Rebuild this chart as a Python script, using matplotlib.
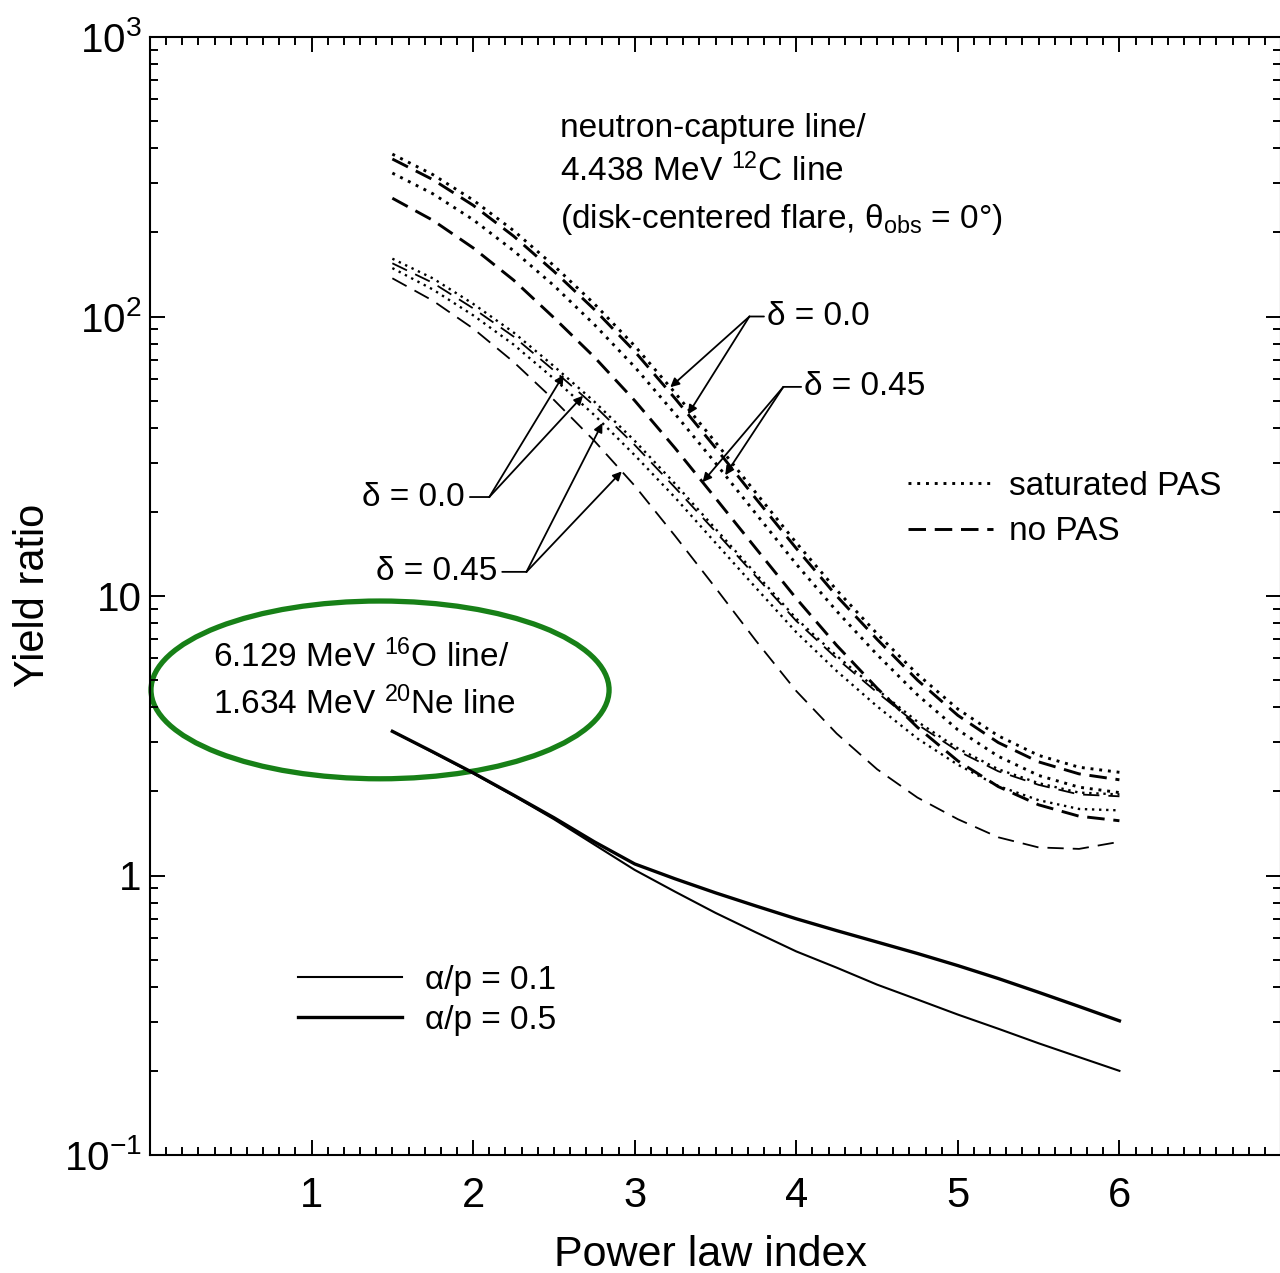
import numpy as np
import matplotlib
matplotlib.use('Agg')
import matplotlib.pyplot as plt
from matplotlib.patches import Ellipse
from matplotlib.lines import Line2D
from matplotlib.ticker import FixedLocator, FixedFormatter, MultipleLocator, LogLocator, NullFormatter

plt.rcParams['font.family'] = 'Liberation Sans'
plt.rcParams['mathtext.fontset'] = 'custom'
plt.rcParams['mathtext.rm'] = 'Liberation Sans'
plt.rcParams['mathtext.it'] = 'Liberation Sans:italic'
plt.rcParams['axes.linewidth'] = 1.5

# power law index grid
index = [1.5, 1.75, 2.0, 2.25, 2.5, 2.75, 3.0, 3.25, 3.5, 3.75,
         4.0, 4.25, 4.5, 4.75, 5.0, 5.25, 5.5, 5.75, 6.0]

# neutron-capture line / 4.438 MeV 12C line, thick = alpha/p 0.5, thin = alpha/p 0.1
nc_thick_d00_sat = [381, 322, 261, 203, 152, 111, 78.5, 53.3, 35.5, 23.4,
                    15.5, 10.5, 7.33, 5.25, 3.94, 3.16, 2.69, 2.44, 2.34]
nc_thick_d00_nopas = [366, 309, 250, 194, 145, 106, 75.0, 50.9, 33.9, 22.3,
                      14.8, 10.0, 7.00, 5.00, 3.74, 2.99, 2.55, 2.31, 2.20]
nc_thick_d45_sat = [326, 275, 222, 172, 129, 93.6, 66.0, 44.8, 29.9, 19.7,
                    13.0, 8.83, 6.17, 4.43, 3.32, 2.67, 2.28, 2.07, 1.98]
nc_thick_d45_nopas = [265, 221, 176, 135, 99.0, 71.6, 50.0, 33.8, 22.4, 14.8,
                      9.80, 6.66, 4.68, 3.39, 2.57, 2.08, 1.79, 1.63, 1.57]
nc_thin_d00_sat = [161, 137, 111, 87.7, 66.4, 49.6, 35.9, 25.2, 17.4, 12.0,
                   8.30, 6.11, 4.63, 3.55, 2.85, 2.40, 2.14, 1.98, 1.95]
nc_thin_d00_nopas = [155, 132, 107, 84.8, 64.1, 48.0, 34.7, 24.4, 17.0, 11.75,
                     8.14, 5.98, 4.52, 3.47, 2.79, 2.36, 2.11, 1.95, 1.92]
nc_thin_d45_sat = [149, 125, 101, 79.4, 59.9, 44.4, 31.9, 22.5, 15.5, 10.7,
                   7.42, 5.39, 4.03, 3.09, 2.49, 2.09, 1.86, 1.73, 1.71]
nc_thin_d45_nopas = [137, 114, 90.6, 68.8, 50.3, 35.9, 24.8, 16.4, 10.7, 6.92,
                     4.57, 3.22, 2.40, 1.90, 1.59, 1.37, 1.26, 1.245, 1.32]

# 6.129 MeV 16O line / 1.634 MeV 20Ne line
one_ap01 = [3.28, 2.76, 2.32, 1.93, 1.59, 1.29, 1.047, 0.875, 0.735, 0.626,
            0.535, 0.468, 0.407, 0.360, 0.318, 0.283, 0.251, 0.224, 0.200]
one_ap05 = [3.28, 2.77, 2.33, 1.94, 1.61, 1.32, 1.10, 0.973, 0.867, 0.778,
            0.700, 0.635, 0.578, 0.526, 0.476, 0.428, 0.382, 0.340, 0.302]

ytick_vals = [0.1, 1, 10, 100, 1000]
ytick_text = ['$10^{-1}$', '1', '10', '$10^2$', '$10^3$']

DOT = (0, (1, 2.0))
DASH_THICK = (0, (6, 3))
DASH_THIN = (0, (9, 5))
LW_THICK = 2.1
LW_THIN = 1.3

fig = plt.figure(figsize=(12.8, 12.73), dpi=100)
ax = fig.add_axes([150 / 1280, 1 - 1155 / 1273, 1131 / 1280, 1118 / 1273])

ax.plot(index, nc_thick_d00_sat, color='k', lw=LW_THICK, ls=DOT)
ax.plot(index, nc_thick_d00_nopas, color='k', lw=LW_THICK, ls=DASH_THICK)
ax.plot(index, nc_thick_d45_sat, color='k', lw=LW_THICK, ls=DOT)
ax.plot(index, nc_thick_d45_nopas, color='k', lw=LW_THICK, ls=DASH_THICK)
ax.plot(index, nc_thin_d00_sat, color='k', lw=LW_THIN + 0.4, ls=DOT)
ax.plot(index, nc_thin_d00_nopas, color='k', lw=LW_THIN, ls=DASH_THIN)
ax.plot(index, nc_thin_d45_sat, color='k', lw=LW_THIN + 0.4, ls=DOT)
ax.plot(index, nc_thin_d45_nopas, color='k', lw=LW_THIN, ls=DASH_THIN)

ax.plot(index, one_ap01, color='k', lw=1.5)
ax.plot(index, one_ap05, color='k', lw=2.4)

ax.set_yscale('log')
ax.set_xlim(0, 7)
ax.set_ylim(0.1, 1000)

ax.xaxis.set_major_locator(FixedLocator([1, 2, 3, 4, 5, 6]))
ax.xaxis.set_minor_locator(MultipleLocator(0.1))
ax.yaxis.set_major_locator(FixedLocator(ytick_vals))
ax.yaxis.set_major_formatter(FixedFormatter(ytick_text))
ax.yaxis.set_minor_locator(LogLocator(base=10, subs=np.arange(2, 10)))
ax.yaxis.set_minor_formatter(NullFormatter())
ax.tick_params(which='both', direction='in', top=True, right=True, width=1.4)
ax.tick_params(which='major', length=11)
ax.tick_params(which='minor', length=6)
ax.tick_params(axis='x', labelsize=30, pad=15)
ax.tick_params(axis='y', labelsize=29, pad=6)

fig.text(33 / 1280, 1 - 595 / 1273, 'Yield ratio', rotation=90,
         ha='center', va='center', fontsize=30)
fig.text(710 / 1280, 1 - 1266 / 1273, 'Power law index',
         ha='center', va='baseline', fontsize=31)

TXT = 24
ax.text(2.54, 472, 'neutron-capture line/', fontsize=TXT, va='center')
ax.text(2.54, 331, '4.438 MeV $^{12}$C line', fontsize=TXT, va='center')
ax.text(2.54, 223, r'(disk-centered flare, θ$_{\mathrm{obs}}$ = 0°)', fontsize=TXT, va='center')

ax.text(0.39, 6.04, '6.129 MeV $^{16}$O line/', fontsize=TXT, va='center')
ax.text(0.39, 4.10, '1.634 MeV $^{20}$Ne line', fontsize=TXT, va='center')


def on_curve(xv, ys):
    return 10 ** np.interp(xv, index, np.log10(ys))


arrow = dict(arrowstyle='-|>', color='k', lw=1.3, mutation_scale=13,
             shrinkA=0, shrinkB=0)
leader = dict(arrowstyle='-', color='k', lw=1.3, shrinkA=0, shrinkB=0)

# delta labels with leader lines and arrows onto the curves
labels = [
    ('δ = 0.0', 3.82, 100, 3.71, 'left',
     [(3.22, nc_thick_d00_sat), (3.33, nc_thick_d00_nopas)]),
    ('δ = 0.45', 4.05, 56, 3.92, 'left',
     [(3.56, nc_thick_d45_sat), (3.42, nc_thick_d45_nopas)]),
    ('δ = 0.0', 1.95, 22.6, 2.10, 'right',
     [(2.56, nc_thin_d00_sat), (2.68, nc_thin_d00_nopas)]),
    ('δ = 0.45', 2.15, 12.2, 2.33, 'right',
     [(2.80, nc_thin_d45_sat), (2.92, nc_thin_d45_nopas)]),
]
for text, tx, ty, bx, side, targets in labels:
    ax.text(tx, ty, text, fontsize=TXT, va='center', ha=side)
    edge = tx - 0.02 if side == 'left' else tx + 0.03
    ax.annotate('', xy=(edge, ty), xytext=(bx, ty), arrowprops=leader)
    for xt, ys in targets:
        ax.annotate('', xy=(xt, on_curve(xt, ys)), xytext=(bx, ty), arrowprops=arrow)

leg1 = ax.legend([Line2D([], [], color='k', lw=LW_THICK, ls=DOT),
                  Line2D([], [], color='k', lw=LW_THICK, ls=DASH_THICK)],
                 ['saturated PAS', 'no PAS'],
                 loc='upper left', bbox_to_anchor=(0.67, 0.612), frameon=False,
                 fontsize=TXT, handlelength=2.55, handletextpad=0.5,
                 labelspacing=0.44, borderpad=0, borderaxespad=0)
ax.add_artist(leg1)
ax.legend([Line2D([], [], color='k', lw=1.5),
           Line2D([], [], color='k', lw=2.4)],
          ['α/p = 0.1', 'α/p = 0.5'],
          loc='upper left', bbox_to_anchor=(0.131, 0.170), frameon=False,
          fontsize=TXT, handlelength=3.12, handletextpad=0.69,
          labelspacing=0.26, borderpad=0, borderaxespad=0)

ax.add_patch(Ellipse((0.2034, 0.416), 0.405, 0.159, transform=ax.transAxes,
                     fill=False, edgecolor='#178017', lw=3.8, clip_on=False))

fig.savefig('out.png', dpi=100)
